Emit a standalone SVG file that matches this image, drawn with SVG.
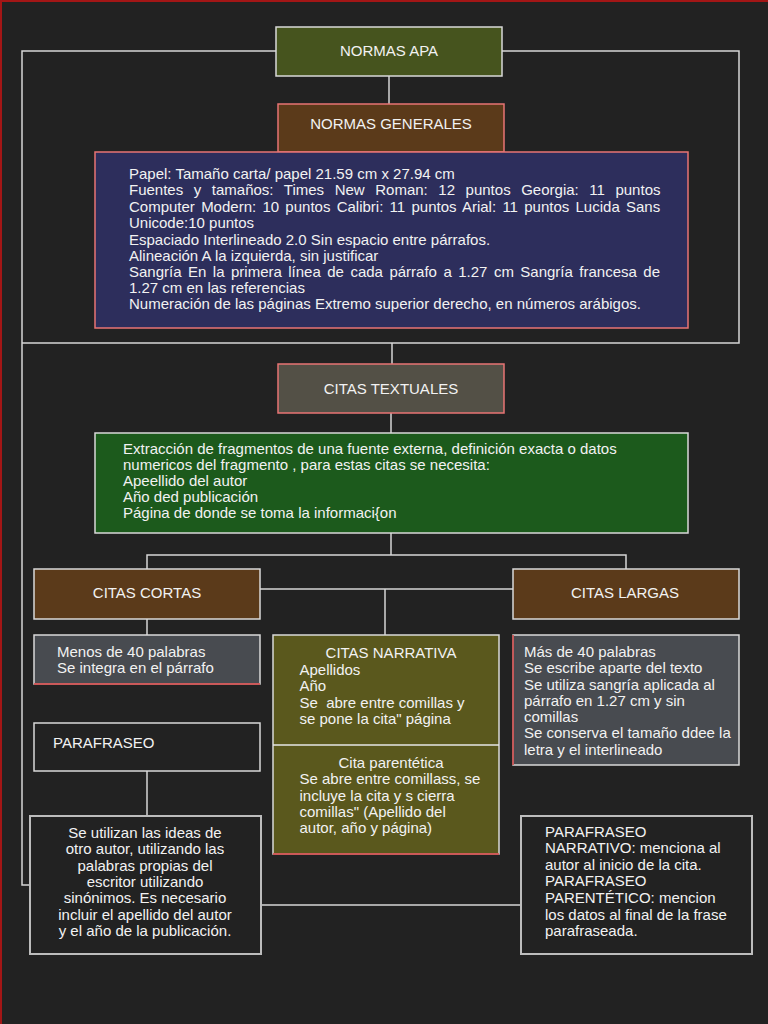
<svg xmlns="http://www.w3.org/2000/svg" width="768" height="1024" viewBox="0 0 768 1024">
<style>
  .t { font-family: "Liberation Sans", Arial, sans-serif; font-size: 15px; fill: #f2f2f2; }
  .c { text-anchor: middle; }
  .ln { fill: none; stroke: #d6d6d6; stroke-width: 1.5; }
  .bw { stroke: #d9d9d9; stroke-width: 1.5; }
  .br { stroke: #e87474; stroke-width: 1.5; }
</style>
<rect x="0" y="0" width="768" height="1024" fill="#222222"/>
<path d="M1,1024 V1 H768" fill="none" stroke="#a31616" stroke-width="2"/>

<g id="connectors" class="ln">
  <path d="M276,51 H22 V885 H30"/>
  <path d="M502,51 H739 V343 H22"/>
  <path d="M389,76 V104"/>
  <path d="M392,343 V364"/>
  <path d="M391,413 V433"/>
  <path d="M391,533 V555"/>
  <path d="M147,569 V555 H626 V569"/>
  <path d="M260,589 H513"/>
  <path d="M385,589 V635"/>
  <path d="M147,619 V635"/>
  <path d="M147,771 V816"/>
  <path d="M261,905 H521"/>
</g>

<g id="normas-apa">
  <rect x="276" y="27" width="226" height="49" fill="#46541e" class="bw"/>
  <text class="t c" x="389" y="56">NORMAS APA</text>
</g>

<g id="normas-generales">
  <rect x="278" y="104" width="226" height="48" fill="#5b3a1a" class="br"/>
  <text class="t c" x="391" y="129">NORMAS GENERALES</text>
</g>

<g id="normas-detalle">
  <rect x="95" y="152" width="593" height="176" fill="#2d2e5c" class="br"/>
  <text class="t" x="129" y="179">Papel: Tamaño carta/ papel 21.59 cm x 27.94 cm</text>
  <text class="t" x="129" y="195" word-spacing="6.4">Fuentes y tamaños: Times New Roman: 12 puntos Georgia: 11 puntos</text>
  <text class="t" x="129" y="212" word-spacing="2.1">Computer Modern: 10 puntos Calibri: 11 puntos Arial: 11 puntos Lucida Sans</text>
  <text class="t" x="129" y="228">Unicode:10 puntos</text>
  <text class="t" x="129" y="245">Espaciado Interlineado 2.0 Sin espacio entre párrafos.</text>
  <text class="t" x="129" y="261">Alineación A la izquierda, sin justificar</text>
  <text class="t" x="129" y="277" word-spacing="2.3">Sangría En la primera línea de cada párrafo a 1.27 cm Sangría francesa de</text>
  <text class="t" x="129" y="293">1.27 cm en las referencias</text>
  <text class="t" x="129" y="309">Numeración de las páginas Extremo superior derecho, en números arábigos.</text>
</g>

<g id="citas-textuales">
  <rect x="278" y="364" width="226" height="49" fill="#535046" class="br"/>
  <text class="t c" x="391" y="394">CITAS TEXTUALES</text>
</g>

<g id="citas-definicion">
  <rect x="95" y="433" width="593" height="100" fill="#1c5a1c" class="bw"/>
  <text class="t" x="123" y="454">Extracción de fragmentos de una fuente externa, definición exacta o datos</text>
  <text class="t" x="123" y="470">numericos del fragmento , para estas citas se necesita:</text>
  <text class="t" x="123" y="486">Apeellido del autor</text>
  <text class="t" x="123" y="502">Año ded publicación</text>
  <text class="t" x="123" y="518">Página de donde se toma la informaci{on</text>
</g>

<g id="citas-cortas">
  <rect x="34" y="569" width="226" height="50" fill="#5b3a1a" class="bw"/>
  <text class="t c" x="147" y="598">CITAS CORTAS</text>
</g>

<g id="citas-largas">
  <rect x="513" y="569" width="226" height="50" fill="#5b3a1a" class="bw"/>
  <text class="t c" x="625" y="598">CITAS LARGAS</text>
</g>

<g id="cortas-detalle">
  <rect x="34" y="635" width="226" height="49" fill="#484b50" class="bw"/>
  <line x1="34" y1="684" x2="260" y2="684" stroke="#d43c3c" stroke-width="1.5"/>
  <text class="t" x="57" y="657">Menos de 40 palabras</text>
  <text class="t" x="57" y="673">Se integra en el párrafo</text>
</g>

<g id="citas-narrativa">
  <rect x="273" y="635" width="226" height="219" fill="#5a581d" class="bw"/>
  <line x1="273" y1="854" x2="499" y2="854" stroke="#d43c3c" stroke-width="1.5"/>
  <line x1="273" y1="745" x2="499" y2="745" stroke="#e6e6e6" stroke-width="1.5"/>
  <text class="t c" x="391" y="658">CITAS NARRATIVA</text>
  <text class="t" x="299.5" y="675">Apellidos</text>
  <text class="t" x="299.5" y="691">Año</text>
  <text class="t" x="299.5" y="708" xml:space="preserve">Se  abre entre comillas y</text>
  <text class="t" x="299.5" y="724">se pone la cita" página</text>
  <text class="t c" x="391" y="768">Cita parentética</text>
  <text class="t" x="299.5" y="784">Se abre entre comillass, se</text>
  <text class="t" x="299.5" y="801">incluye la cita y s cierra</text>
  <text class="t" x="299.5" y="817">comillas" (Apellido del</text>
  <text class="t" x="299.5" y="833">autor, año y página)</text>
</g>

<g id="largas-detalle">
  <rect x="513" y="635" width="226" height="130" fill="#484b50" class="bw"/>
  <line x1="513" y1="635" x2="513" y2="765" stroke="#c83c3c" stroke-width="1.5"/>
  <text class="t" x="524" y="657">Más de 40 palabras</text>
  <text class="t" x="524" y="673">Se escribe aparte del texto</text>
  <text class="t" x="524" y="690">Se utiliza sangría aplicada al</text>
  <text class="t" x="524" y="706">párrafo en 1.27 cm y sin</text>
  <text class="t" x="524" y="722">comillas</text>
  <text class="t" x="524" y="738">Se conserva el tamaño ddee la</text>
  <text class="t" x="524" y="755">letra y el interlineado</text>
</g>

<g id="parafraseo">
  <rect x="34" y="723" width="226" height="48" fill="#222222" class="bw"/>
  <text class="t" x="53" y="748">PARAFRASEO</text>
</g>

<g id="parafraseo-definicion">
  <rect x="30" y="816" width="231" height="138" fill="#222222" stroke="#bdbdbd" stroke-width="2"/>
  <text class="t c" x="145" y="838">Se utilizan las ideas de</text>
  <text class="t c" x="145" y="854">otro autor, utilizando las</text>
  <text class="t c" x="145" y="871">palabras propias del</text>
  <text class="t c" x="145" y="887">escritor utilizando</text>
  <text class="t c" x="145" y="903">sinónimos. Es necesario</text>
  <text class="t c" x="145" y="920">incluir el apellido del autor</text>
  <text class="t c" x="145" y="936">y el año de la publicación.</text>
</g>

<g id="parafraseo-tipos">
  <rect x="521" y="816" width="231" height="138" fill="#222222" stroke="#bdbdbd" stroke-width="2"/>
  <text class="t" x="545" y="837">PARAFRASEO</text>
  <text class="t" x="545" y="853">NARRATIVO: menciona al</text>
  <text class="t" x="545" y="870">autor al inicio de la cita.</text>
  <text class="t" x="545" y="886">PARAFRASEO</text>
  <text class="t" x="545" y="903">PARENTÉTICO: mencion</text>
  <text class="t" x="545" y="920">los datos al final de la frase</text>
  <text class="t" x="545" y="936">parafraseada.</text>
</g>
</svg>
